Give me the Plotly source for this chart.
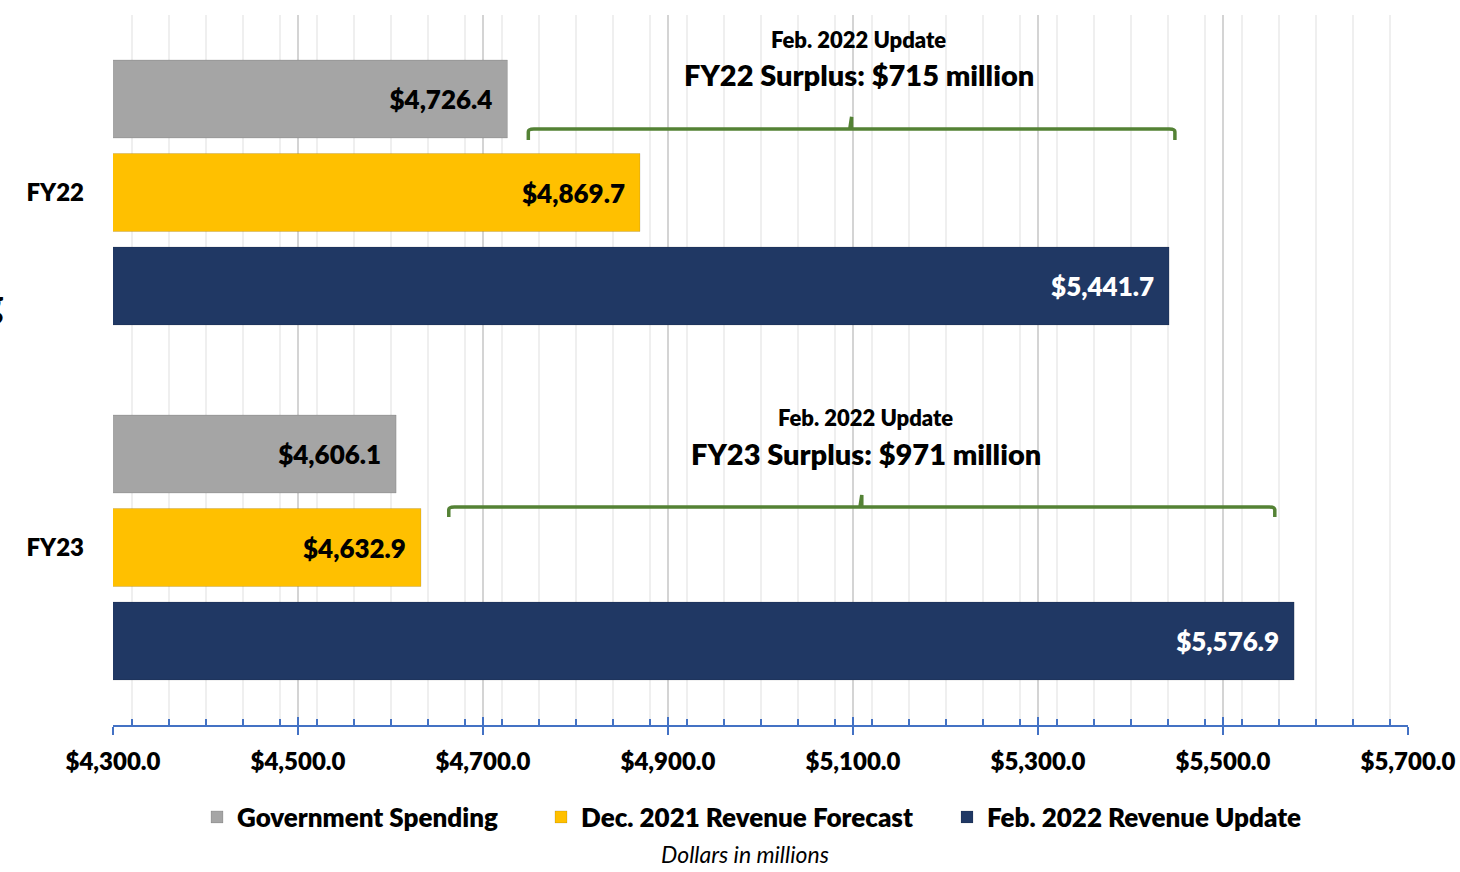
import plotly.graph_objects as go

categories = ["FY22", "FY23"]
gov_spending = [4726.4, 4606.1]
dec_forecast = [4869.7, 4632.9]
feb_update = [5441.7, 5576.9]
series_names = ["Government Spending", "Dec. 2021 Revenue Forecast", "Feb. 2022 Revenue Update"]
series_colors = ["#a5a5a5", "#ffc000", "#203864"]
label_colors = ["#000000", "#000000", "#ffffff"]
surplus_titles = ["FY22 Surplus: $715 million", "FY23 Surplus: $971 million"]
update_title = "Feb. 2022 Update"
brace_left = [4749, 4663]
brace_right = [5448, 5556]
x_ticks = [4300, 4500, 4700, 4900, 5100, 5300, 5500, 5700]
x_ticktext = [f"${v:,.1f}" for v in x_ticks]

FONT = "Lato"
W = 800

fig = go.Figure()
legend_ids = ["legend", "legend2", "legend3"]
for name, vals, col, tcol, lg in zip(series_names, [gov_spending, dec_forecast, feb_update],
                                     series_colors, label_colors, legend_ids):
    fig.add_trace(go.Bar(
        y=categories, x=vals, name=name, orientation="h", legend=lg,
        marker=dict(color=col, line=dict(color="rgba(0,0,0,0.12)", width=1)),
        texttemplate="%{x:$,.1f}\u00a0\u00a0",
        textposition="inside", insidetextanchor="end",
        textfont=dict(family=FONT, size=26, color=tcol, weight=W),
        constraintext="none",
    ))

# braces
brace_geo = [(-0.179, -0.148, -0.213), (0.886, 0.914, 0.852)]
for i, (yl, ye, yn) in enumerate(brace_geo):
    L, R = brace_left[i], brace_right[i]
    mid = (L + R) / 2
    path = (f"M {L},{ye} L {L},{yl+0.008} Q {L},{yl} {L+6},{yl} "
            f"L {mid-2},{yl} L {mid},{yn} L {mid},{yl} L {R-6},{yl} "
            f"Q {R},{yl} {R},{yl+0.008} L {R},{ye}")
    fig.add_shape(type="path", path=path, xref="x", yref="y",
                  line=dict(color="#548235", width=3.5))

ann_pos = [(5106, -0.43, -0.331), (5114, 0.635, 0.734)]
for i, (ax, y1, y2) in enumerate(ann_pos):
    fig.add_annotation(x=ax, y=y1, xref="x", yref="y", text=update_title, showarrow=False,
                       font=dict(family=FONT, size=22, color="#000", weight=W))
    fig.add_annotation(x=ax, y=y2, xref="x", yref="y", text=surplus_titles[i], showarrow=False,
                       font=dict(family=FONT, size=29, color="#000", weight=W))

fig.add_annotation(x=0.488, y=-0.204, xref="paper", yref="paper", text="<i>Dollars in millions</i>",
                   showarrow=False, font=dict(family=FONT, size=23, color="#000"))
# clipped stray glyph at left edge
fig.add_annotation(x=-0.0826, y=0.596, xref="paper", yref="paper", text="g",
                   xanchor="right", showarrow=False, font=dict(family=FONT, size=42, color="#000", weight=W))

leg_font = dict(family=FONT, size=26, color="#000", weight=W)
leg_common = dict(orientation="h", y=-0.1296, yanchor="middle", font=leg_font, bgcolor="rgba(0,0,0,0)")
leg_text_start = [237, 581, 987]
leg_x = [(p - 40 - 113) / 1295 for p in leg_text_start]

fig.update_layout(
    width=1460, height=872,
    margin=dict(l=113, r=52, t=15, b=147, autoexpand=False),
    paper_bgcolor="white", plot_bgcolor="white",
    barmode="group", bargap=0.21, bargroupgap=0.166,
    showlegend=True,
    legend=dict(x=leg_x[0], xanchor="left", **leg_common),
    legend2=dict(x=leg_x[1], xanchor="left", **leg_common),
    legend3=dict(x=leg_x[2], xanchor="left", **leg_common),
    font=dict(family=FONT),
    xaxis=dict(range=[4300, 5700], tickvals=x_ticks, ticktext=x_ticktext,
               showgrid=True, gridcolor="#d4d4d4", gridwidth=2,
               showline=True, linecolor="#4472c4", linewidth=2,
               ticks="outside", ticklen=8, tickwidth=2, tickcolor="#4472c4",
               tickfont=dict(family=FONT, size=24, color="#000", weight=W),
               ticklabelstandoff=6, zeroline=False,
               minor=dict(dtick=40, showgrid=True, gridcolor="#efefef", gridwidth=2,
                          ticks="inside", ticklen=6, tickwidth=2, tickcolor="#4472c4")),
    xaxis2=dict(range=[4300, 5700], overlaying="x", anchor="y", side="bottom",
                tickvals=x_ticks, showticklabels=False, showgrid=False, zeroline=False,
                ticks="inside", ticklen=8, tickwidth=2, tickcolor="#4472c4", showline=False),
    yaxis=dict(range=[1.5, -0.5], showgrid=False, zeroline=False, showline=False, ticks="",
               tickfont=dict(family=FONT, size=24, color="#000", weight=W),
               ticklabelstandoff=28),
)
fig.add_trace(go.Scatter(x=[4300], y=["FY22"], xaxis="x2", mode="markers",
                         marker=dict(opacity=0), showlegend=False, hoverinfo="skip"))

fig.write_html("out.html", config={"displayModeBar": False},
               post_script="document.body.style.margin='0';document.body.style.padding='0';")
